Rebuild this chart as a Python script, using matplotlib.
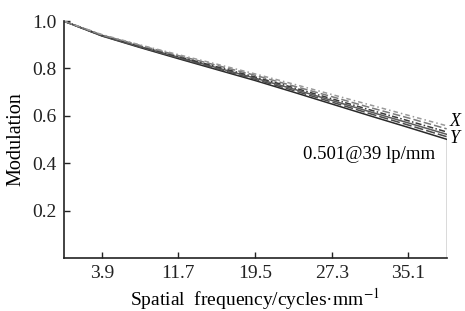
import matplotlib
matplotlib.use("Agg")
import matplotlib.pyplot as plt

freq = [0, 3.9, 7.8, 11.7, 15.6, 19.5, 23.4, 27.3, 31.2, 35.1, 39.0]
s1 = [1.0, 0.937, 0.888, 0.841, 0.795, 0.749, 0.700, 0.650, 0.600, 0.551, 0.501]
s2 = [1.0, 0.938, 0.890, 0.844, 0.799, 0.754, 0.707, 0.658, 0.609, 0.561, 0.512]
s3 = [1.0, 0.939, 0.892, 0.847, 0.803, 0.759, 0.713, 0.665, 0.617, 0.570, 0.522]
s4 = [1.0, 0.940, 0.894, 0.850, 0.807, 0.764, 0.719, 0.672, 0.625, 0.579, 0.532]
s5 = [1.0, 0.941, 0.897, 0.854, 0.813, 0.771, 0.726, 0.681, 0.635, 0.591, 0.545]
s6 = [1.0, 0.943, 0.899, 0.858, 0.818, 0.777, 0.734, 0.690, 0.646, 0.602, 0.558]
xticks = [3.9, 11.7, 19.5, 27.3, 35.1]
yticks = [0.2, 0.4, 0.6, 0.8, 1.0]

plt.rcParams['font.family'] = ['Liberation Serif', 'DejaVu Serif']
plt.rcParams['mathtext.fontset'] = 'stix'
fig = plt.figure(figsize=(4.65, 3.11), dpi=100)
ax = fig.add_axes([0.1366, 0.1704, 0.824, 0.762])

styles = [
    (s1, '#2a2a2a', '-'),
    (s2, '#4a4a4a', (0, (6, 2))),
    (s3, '#5a5a5a', '-'),
    (s4, '#3a3a3a', (0, (4, 1.5, 1, 1.5))),
    (s5, '#7a7a7a', (0, (5, 2))),
    (s6, '#999999', (0, (3, 2, 1, 2))),
]
for s, c, ls in styles:
    ax.plot(freq, s, color=c, linestyle=ls, linewidth=1.1)

ax.plot([39, 39], [0, 0.501], color='#444444', linewidth=1.0)

ax.set_xlim(0, 39)
ax.set_ylim(0, 1.0)
ax.set_xticks(xticks)
ax.set_xticklabels([f"{t:.1f}" for t in xticks])
ax.set_yticks(yticks)
ax.set_yticklabels([f"{t:.1f}" for t in yticks])
ax.tick_params(direction='in', length=4, width=1, labelsize=14, colors='#222222', pad=5)
ax.spines['top'].set_visible(False)
ax.spines['right'].set_visible(False)
for sp in ['left', 'bottom']:
    ax.spines[sp].set_linewidth(1.2)
    ax.spines[sp].set_color('#222222')

ax.set_xlabel("Spatial  frequency/cycles·mm$^{-1}$", fontsize=14, labelpad=3)
ax.set_ylabel("Modulation", fontsize=14.5, labelpad=5)

ax.text(24.4, 0.438, "0.501@39 lp/mm", fontsize=13.5, ha='left', va='center')
ax.text(39.3, 0.577, "X", fontsize=13, style='italic', ha='left', va='center')
ax.text(39.3, 0.505, "Y", fontsize=13, style='italic', ha='left', va='center')

fig.savefig("out.png", dpi=100)
